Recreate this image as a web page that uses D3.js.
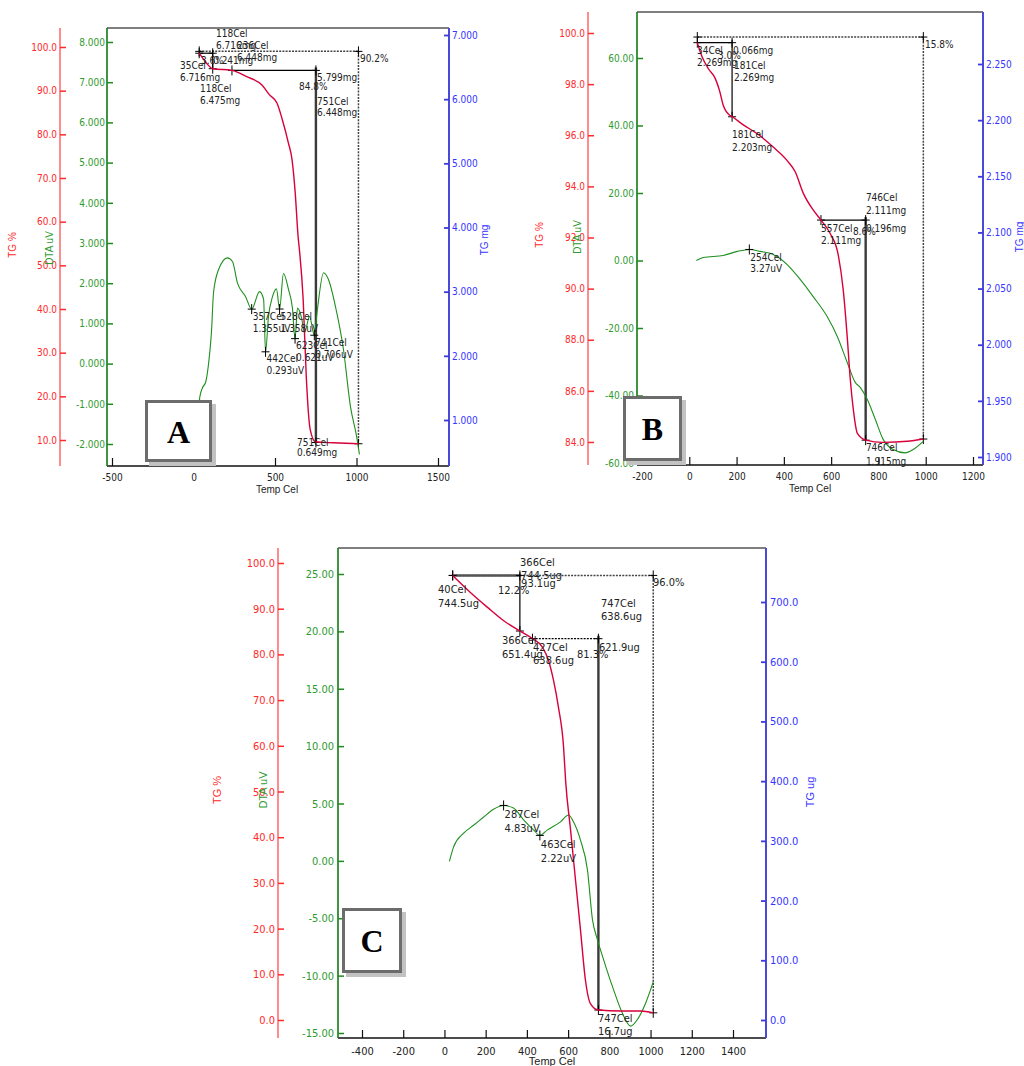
<!DOCTYPE html>
<html>
<head>
<meta charset="utf-8">
<script src="https://cdn.jsdelivr.net/npm/d3@7"></script>
<style>
  body { margin: 0; background: #fff; }
  text { font-family: "Liberation Sans Narrow", "DejaVu Sans Condensed", "Arial Narrow", sans-serif; }
  .title { font-family: "Liberation Sans", Arial, sans-serif; }
  .letter { font-family: "Liberation Serif", "DejaVu Serif", serif; font-weight: bold; }
</style>
</head>
<body>
<svg id="chart" width="1024" height="1066"></svg>
<script>
// ---- panel A (mg) ----
const xTicksA = [-500, 0, 500, 1000, 1500];
const redTicksA = [10, 20, 30, 40, 50, 60, 70, 80, 90, 100];
const greenTicksA = [-2, -1, 0, 1, 2, 3, 4, 5, 6, 7, 8];
const blueTicksA = [1, 2, 3, 4, 5, 6, 7];
const tgA = [[35, 6.716], [74, 6.58], [118, 6.475], [236, 6.448], [326, 6.35], [420, 6.22], [465, 6.07],
  [512, 5.94], [545, 5.68], [582, 5.32], [605, 5.05], [624, 4.54], [642, 3.85], [650, 3.65], [673, 2.87],
  [692, 1.67], [716, 0.85], [748, 0.66], [858, 0.645], [1012, 0.63]];
const dtaA = [[35, -1.3], [38, -0.85], [55, -0.6], [74, -0.47], [92, -0.02], [110, 0.77], [123, 1.77],
  [154, 2.34], [208, 2.63], [239, 2.54], [270, 2.0], [319, 1.67], [357, 1.355], [405, 1.79], [430, 1.6],
  [442, 0.293], [460, 1.17], [485, 1.67], [509, 1.86], [528, 1.358], [552, 2.24], [583, 1.84], [607, 1.38],
  [623, 0.621], [638, 1.38], [663, 1.14], [681, 0.77], [712, 1.17], [741, 0.706], [760, 1.34], [798, 2.26],
  [828, 2.09], [871, 1.42], [920, 0.35], [963, -1.07], [1000, -1.8], [1018, -2.26]];
const peaksA = [[357, 1.355], [442, 0.293], [528, 1.358], [623, 0.621], [741, 0.706]];
const stepsA = [[35, 6.716, 118, 6.475], [236, 6.448, 751, 0.649]];
const totalA = [35, 6.745, 1012, 0.63];
const labelsA = [
  ["118Cel", 138, 7.016], ["6.716mg", 138, 6.844], ["236Cel", 267, 6.844], ["6.448mg", 267, 6.642],
  ["3.6%", 46, 6.61], ["0.241mg", 120, 6.61],
  ["35Cel", -83, 6.53], ["6.716mg", -83, 6.33], ["118Cel", 40, 6.174], ["6.475mg", 40, 5.987],
  ["90.2%", 1021, 6.626], ["5.799mg", 758, 6.33], ["84.8%", 647, 6.19], ["751Cel", 758, 5.956], ["6.448mg", 758, 5.785],
  ["751Cel", 635, 0.657], ["0.649mg", 635, 0.486]
];

// ---- panel B (mg) ----
const xTicksB = [-200, 0, 200, 400, 600, 800, 1000, 1200];
const redTicksB = [84, 86, 88, 90, 92, 94, 96, 98, 100];
const greenTicksB = [-60, -40, -20, 0, 20, 40, 60];
const blueTicksB = [1.9, 1.95, 2.0, 2.05, 2.1, 2.15, 2.2, 2.25];
const tgB = [[34, 2.269], [55, 2.256], [80, 2.246], [110, 2.237], [127, 2.227], [144, 2.213], [173, 2.204],
  [181, 2.203], [227, 2.196], [300, 2.186], [355, 2.176], [414, 2.164], [448, 2.154], [482, 2.135],
  [524, 2.12], [557, 2.111], [596, 2.099], [630, 2.08], [651, 2.049], [668, 2.007], [681, 1.969],
  [694, 1.942], [711, 1.921], [746, 1.915], [820, 1.913], [922, 1.914], [990, 1.916]];
const dtaB = [[30, 0], [59, 0.9], [144, 1.5], [203, 2.7], [254, 3.27], [300, 2.7], [355, 1.8], [414, -1.2],
  [469, -5.6], [524, -10.7], [583, -16.6], [626, -22.5], [668, -30.2], [702, -36.1], [723, -37.6],
  [753, -41.2], [787, -47.1], [820, -53], [862, -56], [913, -57], [947, -56], [990, -53.6]];
const peaksB = [[254, 3.27]];
const stepsB = [[34, 2.269, 181, 2.203], [557, 2.111, 746, 1.915]];
const totalB = [34, 2.274, 990, 1.916];
const labelsB = [
  ["34Cel", 33, 2.2616], ["2.269mg", 33, 2.2509], ["3.0%", 121, 2.258], ["0.066mg", 185, 2.2616],
  ["181Cel", 189, 2.249], ["2.269mg", 189, 2.2384], ["181Cel", 181, 2.1874], ["2.203mg", 181, 2.1759],
  ["15.8%", 997, 2.2678], ["746Cel", 747, 2.1307], ["2.111mg", 747, 2.1191], ["0.196mg", 747, 2.1039],
  ["557Cel", 557, 2.1039], ["2.111mg", 557, 2.0932], ["8.6%", 692, 2.1004],
  ["746Cel", 747, 1.9089], ["1.915mg", 747, 1.8964]
];

// ---- panel C (ug) ----
const xTicksC = [-400, -200, 0, 200, 400, 600, 800, 1000, 1200, 1400];
const redTicksC = [0, 10, 20, 30, 40, 50, 60, 70, 80, 90, 100];
const greenTicksC = [-15, -10, -5, 0, 5, 10, 15, 20, 25];
const blueTicksC = [0, 100, 200, 300, 400, 500, 600, 700];
const tgC = [[40, 744.5], [126, 716], [209, 691], [286, 669], [366, 651.4], [427, 638.6], [476, 624],
  [505, 602], [529, 569], [553, 524], [578, 457], [588, 400], [612, 318], [636, 234], [660, 151],
  [684, 67], [709, 27], [747, 16.7], [854, 15], [951, 15], [1013, 12]];
const dtaC = [[24, -0.05], [44, 1.2], [92, 2.4], [141, 3.1], [189, 3.8], [238, 4.5], [287, 4.83],
  [335, 4.6], [383, 3.6], [432, 2.7], [463, 2.22], [500, 2.7], [563, 3.4], [602, 4.0], [626, 3.4],
  [660, 1.8], [694, -0.8], [718, -5.1], [743, -6.9], [772, -8.6], [820, -11.2], [864, -13.3],
  [903, -14.4], [937, -13.8], [976, -12.4], [1014, -10.5]];
const peaksC = [[287, 4.83], [463, 2.22]];
const stepsC = [[40, 744.5, 366, 651.4], [427, 638.6, 747, 16.7]];
const totalC = [40, 744.5, 1013, 12];
const labelsC = [
  ["366Cel", 367, 767], ["744.5ug", 372, 745], ["93.1ug", 372, 732], ["12.2%", 260, 720],
  ["40Cel", -31, 722], ["744.5ug", -31, 698], ["366Cel", 279, 636], ["651.4ug", 279, 613],
  ["96.0%", 1012, 733], ["427Cel", 430, 625], ["638.6ug", 430, 603], ["81.3%", 643, 613], ["621.9ug", 750, 625],
  ["747Cel", 760, 698], ["638.6ug", 760, 677], ["747Cel", 745, 3], ["16.7ug", 745, -18]
];

const RED = "#ff2a2a", GREEN = "#2f9a2f", BLUE = "#3535ff";

const svg = d3.select("#chart");

function panel(c) {
  const g = svg.append("g");
  const f = c.frame, fs = c.fs;
  const x = d3.scaleLinear().domain(d3.extent(c.xTicks)).range(c.xRange);
  const yR = d3.scaleLinear().domain(d3.extent(c.redTicks)).range(c.redRange);
  const yG = d3.scaleLinear().domain(d3.extent(c.greenTicks)).range(c.greenRange);
  const yB = d3.scaleLinear().domain(d3.extent(c.blueTicks)).range(c.blueRange);

  // frame
  g.append("line").attr("x1", f.l).attr("x2", f.r).attr("y1", f.t).attr("y2", f.t)
    .attr("stroke", "#000").attr("stroke-width", 1.2);
  g.append("line").attr("x1", f.l).attr("x2", f.r).attr("y1", f.b).attr("y2", f.b)
    .attr("stroke", "#111").attr("stroke-width", 1.6);

  // bottom axis
  let ax = g.append("g").attr("transform", `translate(0,${f.b})`)
    .call(d3.axisBottom(x).tickValues(c.xTicks).tickSize(-8).tickPadding(c.xPad).tickFormat(d => d));
  ax.select(".domain").remove();
  ax.selectAll("line").attr("stroke", "#111").attr("stroke-width", 1.2);
  ax.selectAll("text").attr("fill", "#222").style("font-size", fs + "px");

  // red TG % axis
  g.append("line").attr("x1", c.redX).attr("x2", c.redX).attr("y1", f.t).attr("y2", f.b)
    .attr("stroke", "#ff7070").attr("stroke-width", 1.6);
  ax = g.append("g").attr("transform", `translate(${c.redX},0)`)
    .call(d3.axisLeft(yR).tickValues(c.redTicks).tickSize(-6).tickPadding(3).tickFormat(d => d.toFixed(1)));
  ax.select(".domain").remove();
  ax.selectAll("line").attr("stroke", RED).attr("stroke-width", 1.5);
  ax.selectAll("text").attr("fill", RED).style("font-size", fs + "px");

  // green DTA axis
  g.append("line").attr("x1", f.l).attr("x2", f.l).attr("y1", f.t).attr("y2", f.b)
    .attr("stroke", "#117a11").attr("stroke-width", 1.6);
  ax = g.append("g").attr("transform", `translate(${f.l},0)`)
    .call(d3.axisLeft(yG).tickValues(c.greenTicks).tickSize(-6).tickPadding(c.gPad).tickFormat(d => d.toFixed(c.gDec)));
  ax.select(".domain").remove();
  ax.selectAll("line").attr("stroke", "#1f8a1f").attr("stroke-width", 1.5);
  ax.selectAll("text").attr("fill", GREEN).style("font-size", fs + "px");

  // blue TG mass axis
  g.append("line").attr("x1", f.r).attr("x2", f.r).attr("y1", f.t).attr("y2", f.b)
    .attr("stroke", "#4a4ad8").attr("stroke-width", 2);
  ax = g.append("g").attr("transform", `translate(${f.r},0)`)
    .call(d3.axisRight(yB).tickValues(c.blueTicks).tickSize(-5).tickPadding(c.bPad).tickFormat(d => d.toFixed(c.bDec)));
  ax.select(".domain").remove();
  ax.selectAll("line").attr("stroke", "#3a3ae0").attr("stroke-width", 1.8);
  ax.selectAll("text").attr("fill", BLUE).style("font-size", fs + "px");

  // axis titles
  const title = (t, px, py, col) => g.append("text").attr("class", "title")
    .attr("transform", `translate(${px},${py}) rotate(-90)`).attr("text-anchor", "middle")
    .attr("fill", col).style("font-size", fs + "px").text(t);
  title("TG %", c.titles.red[0], c.titles.red[1], RED);
  title("DTA uV", c.titles.green[0], c.titles.green[1], GREEN);
  title(c.massTitle, c.titles.blue[0], c.titles.blue[1], BLUE);
  g.append("text").attr("class", "title").attr("x", c.titles.temp[0]).attr("y", c.titles.temp[1])
    .attr("text-anchor", "middle").attr("fill", "#222").style("font-size", fs + "px").text("Temp Cel");

  // annotation lines
  const cross = (px, py) => {
    g.append("path").attr("d", `M${px - 4},${py}H${px + 4}M${px},${py - 5}V${py + 5}`)
      .attr("stroke", "#000").attr("stroke-width", 1);
  };
  const tot = c.total;
  g.append("path")
    .attr("d", `M${x(tot[0])},${yB(tot[1])}H${x(tot[2])}V${yB(tot[3])}`)
    .attr("fill", "none").attr("stroke", "#444").attr("stroke-width", 1.5).attr("stroke-dasharray", "2,1.2");
  cross(x(tot[0]), yB(tot[1])); cross(x(tot[2]), yB(tot[1])); cross(x(tot[2]), yB(tot[3]));
  c.steps.forEach((s, i) => {
    const last = i === c.steps.length - 1;
    g.append("line").attr("x1", x(s[0])).attr("x2", x(s[2])).attr("y1", yB(s[1])).attr("y2", yB(s[1]))
      .attr("stroke", c.stepH[i].col).attr("stroke-width", c.stepH[i].w)
      .attr("stroke-dasharray", c.stepH[i].dash);
    g.append("line").attr("x1", x(s[2])).attr("x2", x(s[2])).attr("y1", yB(s[1]) - 3).attr("y2", yB(s[3]))
      .attr("stroke", last ? "#3a3a3a" : "#000").attr("stroke-width", last ? 2.4 : 1.2);
    cross(x(s[0]), yB(s[1])); cross(x(s[2]), yB(s[1])); cross(x(s[2]), yB(s[3]));
  });

  // curves
  const lineB = d3.line().x(d => x(d[0])).y(d => yB(d[1])).curve(d3.curveMonotoneX);
  const lineG = d3.line().x(d => x(d[0])).y(d => yG(d[1])).curve(d3.curveMonotoneX);
  g.append("path").attr("d", lineG(c.dta)).attr("fill", "none").attr("stroke", "#1f8f1f").attr("stroke-width", 1.1);
  g.append("path").attr("d", lineB(c.tg)).attr("fill", "none").attr("stroke", "#d8003a").attr("stroke-width", 1.4);

  // TG labels
  g.selectAll(null).data(c.labels).enter().append("text")
    .attr("x", d => x(d[1])).attr("y", d => yB(d[2])).attr("dy", "0.35em")
    .attr("fill", "#222").style("font-size", fs + "px").text(d => d[0]);

  // DTA peak markers
  c.peaks.forEach(p => {
    const px = x(p[0]), py = yG(p[1]);
    cross(px, py);
    g.append("text").attr("x", px + 1).attr("y", py + c.peakDy[0]).attr("dy", "0.35em")
      .attr("fill", "#222").style("font-size", fs + "px").text(p[0] + "Cel");
    g.append("text").attr("x", px + 1).attr("y", py + c.peakDy[1]).attr("dy", "0.35em")
      .attr("fill", "#222").style("font-size", fs + "px").text(p[1].toFixed(c.peakDec) + "uV");
  });

  // letter box
  const b = c.box;
  g.append("rect").attr("x", b[0] + 4).attr("y", b[1] + 4).attr("width", b[2] - b[0]).attr("height", b[3] - b[1])
    .attr("fill", "#c2c2c2");
  g.append("rect").attr("x", b[0] + 1.5).attr("y", b[1] + 1.5).attr("width", b[2] - b[0] - 3).attr("height", b[3] - b[1] - 3)
    .attr("fill", "#fff").attr("stroke", "#6c6c6c").attr("stroke-width", 3);
  g.append("text").attr("class", "letter").attr("x", (b[0] + b[2]) / 2).attr("y", (b[1] + b[3]) / 2)
    .attr("dy", "0.36em").attr("text-anchor", "middle").style("font-size", "32px").attr("fill", "#000").text(c.letter);
}

const thin = { col: "#000", w: 1.2, dash: null };

panel({
  letter: "A", fs: 10, massTitle: "TG mg",
  frame: { l: 107, t: 28, r: 449, b: 466 }, redX: 60,
  xTicks: xTicksA, xRange: [112, 438], xPad: 8,
  redTicks: redTicksA, redRange: [440, 47],
  greenTicks: greenTicksA, greenRange: [444, 42], gPad: 2, gDec: 3,
  blueTicks: blueTicksA, blueRange: [420, 35], bPad: 3, bDec: 3,
  titles: { red: [16, 245], green: [53, 248], blue: [488, 240], temp: [277, 493] },
  tg: tgA, dta: dtaA, peaks: peaksA, peakDec: 3, peakDy: [7, 19],
  steps: stepsA, total: totalA, labels: labelsA,
  stepH: [thin, thin],
  box: [145, 400, 212, 462]
});

panel({
  letter: "B", fs: 10, massTitle: "TG mg",
  frame: { l: 637, t: 12, r: 983, b: 465 }, redX: 588,
  xTicks: xTicksB, xRange: [642, 973], xPad: 8,
  redTicks: redTicksB, redRange: [442, 33],
  greenTicks: greenTicksB, greenRange: [463, 58], gPad: 3, gDec: 2,
  blueTicks: blueTicksB, blueRange: [457, 64], bPad: 3, bDec: 3,
  titles: { red: [543, 235], green: [581, 237], blue: [1023, 237], temp: [810, 492] },
  tg: tgB, dta: dtaB, peaks: peaksB, peakDec: 2, peakDy: [8, 19],
  steps: stepsB, total: totalB, labels: labelsB,
  stepH: [thin, thin],
  box: [623, 396, 682, 461]
});

panel({
  letter: "C", fs: 11, massTitle: "TG ug",
  frame: { l: 338, t: 548, r: 766, b: 1038 }, redX: 278,
  xTicks: xTicksC, xRange: [362, 733], xPad: 9,
  redTicks: redTicksC, redRange: [1020, 563],
  greenTicks: greenTicksC, greenRange: [1033, 574], gPad: 4, gDec: 2,
  blueTicks: blueTicksC, blueRange: [1020, 602], bPad: 4, bDec: 1,
  titles: { red: [221, 790], green: [267, 790], blue: [814, 792], temp: [552, 1065] },
  tg: tgC, dta: dtaC, peaks: peaksC, peakDec: 2, peakDy: [9, 23],
  steps: stepsC, total: totalC, labels: labelsC,
  stepH: [{ col: "#555", w: 2.6, dash: null }, { col: "#000", w: 1.2, dash: "2,1.2" }],
  box: [342, 908, 402, 973]
});
</script>
</body>
</html>
